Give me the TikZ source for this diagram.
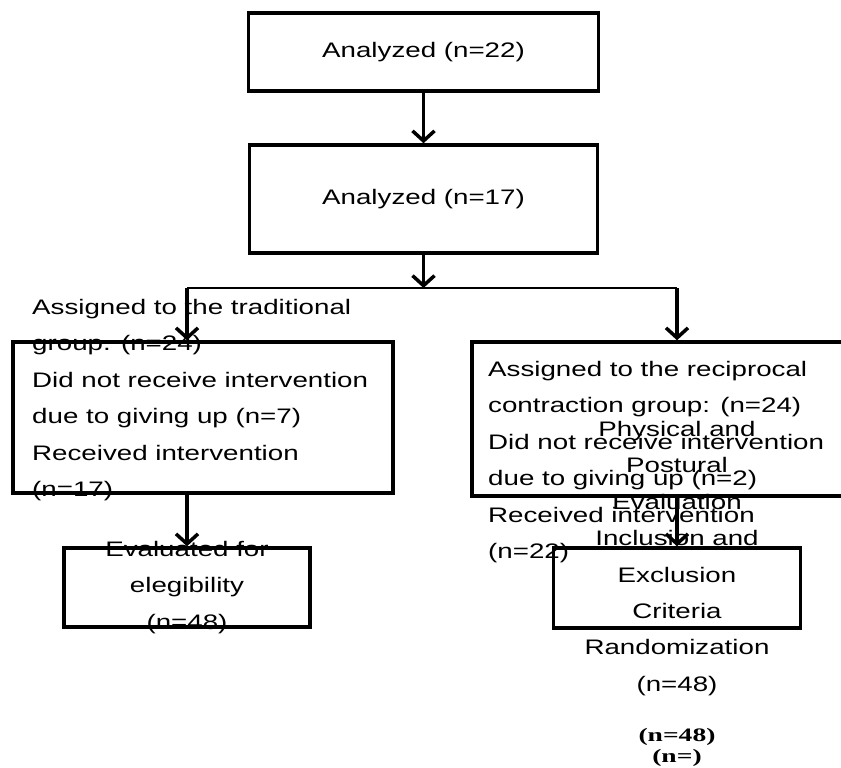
\documentclass[tikz,border=0pt]{standalone}
\usepackage{fontspec}
\setmainfont{Liberation Sans}[FakeStretch=1.32]
\newfontfamily\widerm{Liberation Serif}[FakeStretch=1.45]
\usetikzlibrary{arrows.meta,positioning}
\tikzset{
	box/.style={draw, line width=3.5pt, inner sep=0pt},
	flowtext/.style={font=\fontsize{21}{36.4}\selectfont, inner sep=0pt},
	flow/.style={line width=3.5pt, -{Straight Barb[length=10pt,width=22pt]}}
}

\begin{document}
\begin{tikzpicture}[x=1pt,y=-1pt]
			\useasboundingbox (0,0) rectangle (841,768);

			\node[box, minimum width=350pt, minimum height=78pt] (an1) at (423.5,52) {};
			\node[box, minimum width=348pt, minimum height=108pt] (an2) at (423.5,199) {};
			\node[box, minimum width=380pt, minimum height=151pt] (trad) at (203,417.5) {};
			\node[box, minimum width=374pt, minimum height=154pt] (recip) at (659,419) {};
			\node[box, minimum width=246pt, minimum height=79pt] (elig) at (187,587.5) {};
			\node[box, minimum width=247pt, minimum height=80pt] (incl) at (677,588) {};

			\coordinate (split) at (423.5,288);
			\coordinate (splitL) at (187,288);
			\coordinate (splitR) at (677,288);

			\node[flowtext] (an1text) at (an1) {Analyzed (n=22)};
			\node[flowtext] (an2text) at (an2) {Analyzed (n=17)};
			\node[flowtext, anchor=west, align=left] (tradtext) at (32,400) {Assigned to the traditional\\group. (n=24)\\Did not receive intervention\\due to giving up (n=7)\\Received intervention\\(n=17)};
			\node[flowtext, anchor=west, align=left] (reciptext) at (488,462) {Assigned to the reciprocal\\contraction group: (n=24)\\Did not receive intervention\\due to giving up (n=2)\\Received intervention\\(n=22)};
			\node[flowtext, align=center] (elitext) at (elig) {Evaluated for\\elegibility\\(n=48)};
			\node[flowtext, align=center] (incltext) at (677,558.5) {Physical and\\Postural\\Evaluation\\Inclusion and\\Exclusion\\Criteria\\Randomization\\(n=48)};
			\node[font=\widerm\bfseries\fontsize{19}{21}\selectfont, align=center, inner sep=0pt] (ntext) at (677,747.5) {(n=48)\\(n=)};

			\draw[flow] (an1) -- (an2);
			\draw[flow] (an2) -- (split);
			\draw[line width=2.5pt] (splitL) -- (splitR);
			\draw[flow] (splitL) -- (splitL |- trad.north);
			\draw[flow] (splitR) -- (splitR |- recip.north);
			\draw[flow] (elig |- trad.south) -- (elig);
			\draw[flow] (incl |- recip.south) -- (incl);
		\end{tikzpicture}
\end{document}
